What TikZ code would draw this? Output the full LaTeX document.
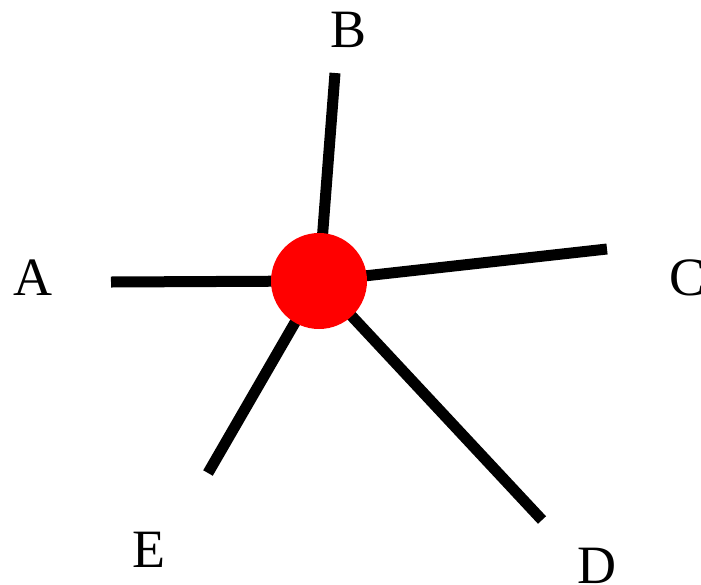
\documentclass[tikz,border=0pt]{standalone}
\usepackage{fontspec}
\setmainfont{Liberation Serif}
\begin{document}
\begin{tikzpicture}[x=1pt,y=-1pt,
  spoke/.style={line width=11pt,black},
  lbl/.style={font=\fontsize{54}{54}\selectfont,inner sep=0pt}]
\useasboundingbox (0,0) rectangle (701,584);
\coordinate (c) at (319,281);
\coordinate (a) at (111,282);
\coordinate (b) at (335,73);
\coordinate (cc) at (607,249);
\coordinate (d) at (542,520);
\coordinate (e) at (208,473);
\draw[spoke] (c) -- (a);
\draw[spoke] (c) -- (b);
\draw[spoke] (c) -- (cc);
\draw[spoke] (c) -- (d);
\draw[spoke] (c) -- (e);
\node[circle,fill=red,minimum size=96pt,inner sep=0pt] (hub) at (c) {};
\node[lbl] (la) at (33,278) {A};
\node[lbl] (lb) at (349,30) {B};
\node[lbl] (lc) at (687,278) {C};
\node[lbl] (ld) at (597,566) {D};
\node[lbl] (le) at (149,550) {E};
\end{tikzpicture}
\end{document}
